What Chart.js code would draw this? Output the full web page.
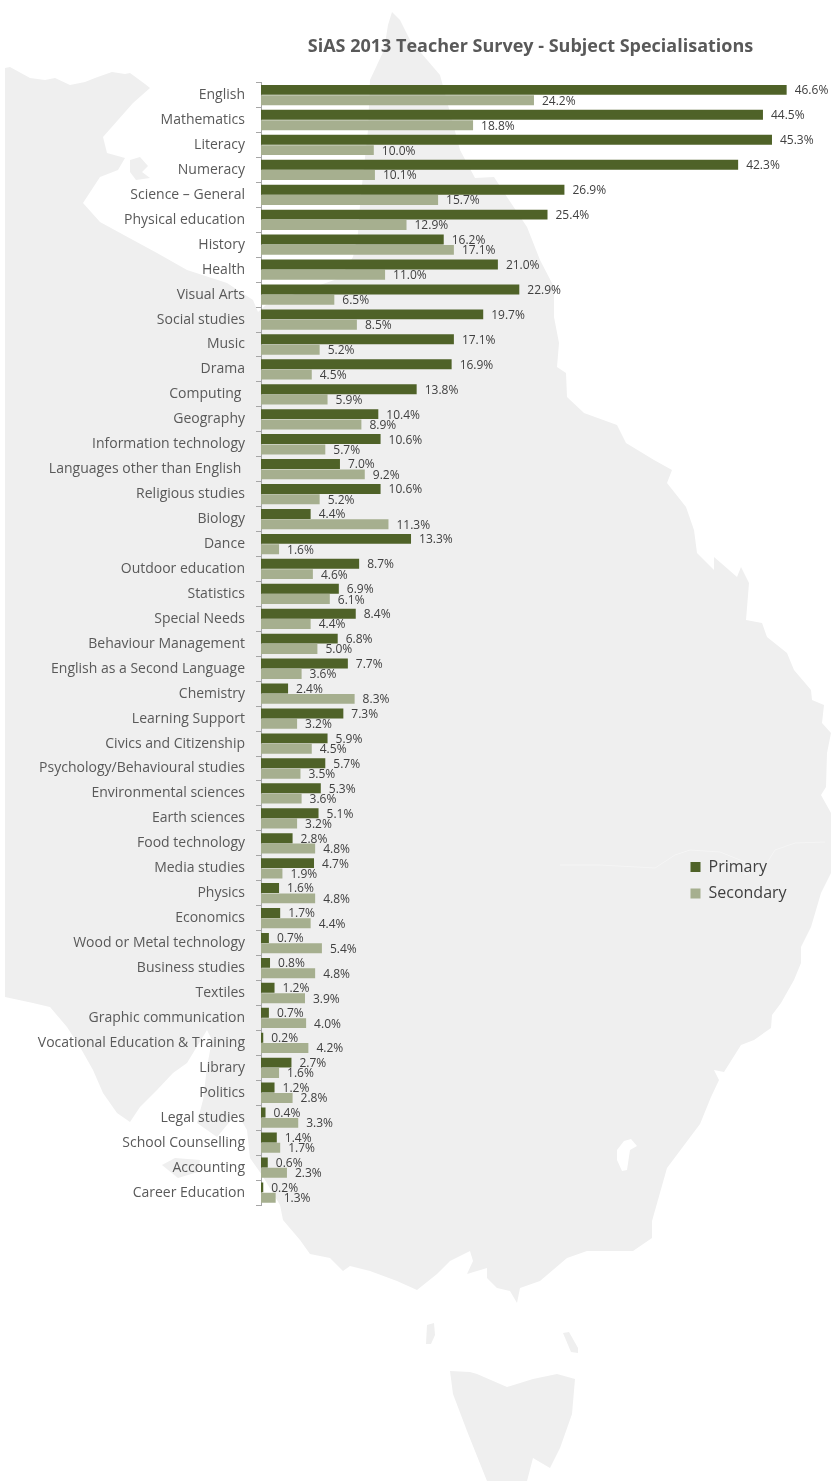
<!DOCTYPE html>
<html>
<head>
<meta charset="utf-8">
<script src="https://cdn.jsdelivr.net/npm/chart.js@4"></script>
<style>
    html, body { margin: 0; padding: 0; background: #fff; }
    #wrap { position: relative; width: 831px; height: 1481px; overflow: hidden; }
    #map { position: absolute; left: 0; top: 0; }
    #chart { position: absolute; left: 0; top: 0; }
</style>
</head>
<body>
<div id="wrap">
    <!-- map of eastern Australia behind the chart -->
    <svg id="map" width="831" height="1481" viewBox="0 0 831 1481">
        <path fill="#efefef" fill-rule="evenodd" d="M5 68 L10 67 L30 78 L45 80 L55 78 L70 85 L85 82 L95 78 L112 72 L125 74 L130 73 L145 84 L150 88 L133 103 L103 137 L107 153 L125 158 L118 170 L100 177 L83 203 L100 222 L133 240 L157 253 L187 270 L227 283 L253 300 L258 312 L266 305 L300 292 L340 278 L353 257 L358 233 L360 205 L362 185 L368 130 L370 80 L384 50 L388 25 L392 12 L400 20 L410 40 L440 75 L452 120 L460 150 L475 178 L494 177 L507 197 L527 227 L540 260 L554 287 L554 317 L559 343 L557 367 L566 373 L567 397 L584 413 L617 425 L626 443 L654 460 L672 470 L667 483 L686 507 L694 530 L697 553 L714 570 L714 557 L721 563 L737 577 L741 567 L749 583 L746 620 L762 623 L767 637 L787 653 L794 670 L811 690 L812 700 L824 705 L822 723 L831 733 L827 753 L826 787 L821 795 L831 813 L831 873 L821 893 L811 927 L801 947 L801 963 L794 980 L781 1003 L772 1015 L771 1028 L754 1040 L741 1045 L724 1072 L714 1070 L719 1080 L711 1097 L700 1124 L667 1168 L652 1221 L652 1238 L633 1251 L587 1251 L567 1258 L540 1281 L520 1288 L517 1303 L510 1291 L497 1288 L487 1278 L487 1268 L467 1274 L473 1261 L470 1251 L450 1261 L437 1274 L417 1290 L397 1281 L370 1271 L350 1266 L343 1271 L330 1258 L310 1254 L300 1240 L283 1220 L280 1205 L262 1175 L250 1158 L247 1130 L237 1113 L217 1137 L197 1123 L203 1100 L207 1067 L212 1040 L207 1030 L187 1063 L173 1073 L157 1090 L140 1107 L130 1122 L117 1113 L103 1093 L93 1070 L80 1047 L67 1027 L50 1007 L33 1003 L5 997 Z
        M617 1150 L624 1141 L631 1139 L637 1146 L630 1150 L627 1170 L622 1171 L617 1160 Z"/>
        <path fill="#efefef" d="M130 160 L140 157 L148 166 L142 172 L150 178 L136 180 L130 172 Z"/>
        <path fill="#efefef" d="M162 1165 L175 1158 L200 1160 L198 1172 L178 1178 Z"/>
        <path fill="#efefef" d="M427 1325 L434 1323 L435 1335 L431 1344 L426 1344 Z"/>
        <path fill="#efefef" d="M563 1333 L569 1332 L578 1348 L578 1353 L571 1352 Z"/>
        <path fill="#efefef" d="M450 1371 L470 1372 L477 1374 L507 1387 L533 1379 L557 1374 L575 1379 L572 1414 L560 1448 L550 1468 L533 1458 L527 1481 L487 1481 L467 1431 L453 1394 Z"/>
        <polyline fill="none" stroke="#f5f5f5" stroke-width="1" points="560,865 600,865 655,868 675,855 690,850 720,852 745,862 745,875 765,866 775,850 795,843 825,842"/>
    </svg>
    <canvas id="chart" width="831" height="1481"></canvas>
</div>
<script>
// 과목 이름
const categories = [
    'English', 'Mathematics', 'Literacy', 'Numeracy', 'Science – General',
    'Physical education', 'History', 'Health', 'Visual Arts', 'Social studies',
    'Music', 'Drama', 'Computing ', 'Geography', 'Information technology',
    'Languages other than English ', 'Religious studies', 'Biology', 'Dance', 'Outdoor education',
    'Statistics', 'Special Needs', 'Behaviour Management', 'English as a Second Language', 'Chemistry',
    'Learning Support', 'Civics and Citizenship', 'Psychology/Behavioural studies', 'Environmental sciences', 'Earth sciences',
    'Food technology', 'Media studies', 'Physics', 'Economics', 'Wood or Metal technology',
    'Business studies', 'Textiles', 'Graphic communication', 'Vocational Education & Training', 'Library',
    'Politics', 'Legal studies', 'School Counselling', 'Accounting', 'Career Education'
];

const primaryValues = [
    46.6, 44.5, 45.3, 42.3, 26.9,
    25.4, 16.2, 21.0, 22.9, 19.7,
    17.1, 16.9, 13.8, 10.4, 10.6,
    7.0, 10.6, 4.4, 13.3, 8.7,
    6.9, 8.4, 6.8, 7.7, 2.4,
    7.3, 5.9, 5.7, 5.3, 5.1,
    2.8, 4.7, 1.6, 1.7, 0.7,
    0.8, 1.2, 0.7, 0.2, 2.7,
    1.2, 0.4, 1.4, 0.6, 0.2
];

const secondaryValues = [
    24.2, 18.8, 10.0, 10.1, 15.7,
    12.9, 17.1, 11.0, 6.5, 8.5,
    5.2, 4.5, 5.9, 8.9, 5.7,
    9.2, 5.2, 11.3, 1.6, 4.6,
    6.1, 4.4, 5.0, 3.6, 8.3,
    3.2, 4.5, 3.5, 3.6, 3.2,
    4.8, 1.9, 4.8, 4.4, 5.4,
    4.8, 3.9, 4.0, 4.2, 1.6,
    2.8, 3.3, 1.7, 2.3, 1.3
];

const FONT = '"Open Sans", sans-serif';

// 막대 끝에 값 표시
const valueLabels = {
    id: 'valueLabels',
    afterDatasetsDraw(chart) {
        const ctx = chart.ctx;
        ctx.save();
        ctx.font = '12px ' + FONT;
        ctx.fillStyle = '#404040';
        ctx.textAlign = 'left';
        ctx.textBaseline = 'middle';
        chart.data.datasets.forEach((ds, i) => {
            chart.getDatasetMeta(i).data.forEach((bar, j) => {
                ctx.fillText(ds.data[j].toFixed(1) + '%', bar.x + 8, bar.y + 1);
            });
        });
        ctx.restore();
    }
};

// 제목과 범례 위치 조정
const placeBoxes = {
    id: 'placeBoxes',
    afterLayout(chart) {
        const title = chart.titleBlock;
        title.left = 230;
        title.right = 831;
        const legend = chart.legend;
        legend.left = 680;
        legend.right = 680 + legend.width;
        legend.top = 319;
        legend.bottom = 319 + legend.height;
    }
};

new Chart(document.getElementById('chart').getContext('2d'), {
    type: 'bar',
    data: {
        labels: categories,
        datasets: [
            { label: 'Primary', data: primaryValues, backgroundColor: '#4f6228' },
            { label: 'Secondary', data: secondaryValues, backgroundColor: '#a6af8f' }
        ]
    },
    options: {
        indexAxis: 'y',
        responsive: false,
        animation: false,
        categoryPercentage: 0.83,
        barPercentage: 0.96,
        layout: { padding: { left: 0, top: 0, right: 6, bottom: 276 } },
        scales: {
            x: { display: false, min: 0, max: 50 },
            y: {
                afterFit(scale) { scale.width = 261; },
                border: { color: '#a6a6a6' },
                grid: { drawOnChartArea: false, tickLength: 5, color: '#a6a6a6' },
                ticks: {
                    autoSkip: false,
                    padding: 11,
                    color: '#595959',
                    font: { family: FONT, size: 14 }
                }
            }
        },
        plugins: {
            title: {
                display: true,
                text: 'SiAS 2013 Teacher Survey - Subject Specialisations',
                color: '#595959',
                font: { family: FONT, size: 18, weight: 'bold' },
                padding: { top: 36, bottom: 25 }
            },
            legend: {
                position: 'chartArea',
                labels: {
                    boxWidth: 10,
                    boxHeight: 10,
                    padding: 10.5,
                    color: '#404040',
                    font: { family: FONT, size: 16 }
                }
            },
            tooltip: { enabled: false }
        }
    },
    plugins: [valueLabels, placeBoxes]
});
</script>
</body>
</html>
